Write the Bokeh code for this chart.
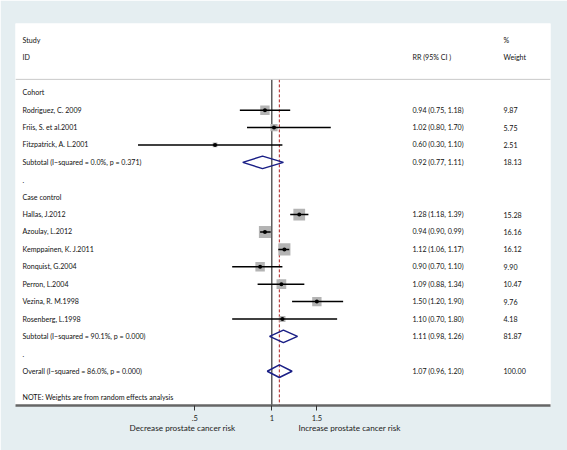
from bokeh.plotting import figure
from bokeh.models import (Range1d, LinearScale, FixedTicker, LinearAxis, Span,
                          ColumnDataSource)
from bokeh.core.properties import value
from bokeh.embed import file_html
from bokeh.resources import INLINE

# ---------------- data ----------------
studies = ["Rodriguez, C. 2009", "Friis, S. et al.2001", "Fitzpatrick, A. L.2001",
           "Hallas, J.2012", "Azoulay, L.2012", "Kemppainen, K. J.2011",
           "Ronquist, G.2004", "Perron, L.2004", "Vezina, R. M.1998", "Rosenberg, L.1998"]
study_rows = [1, 2, 3, 7, 8, 9, 10, 11, 12, 13]
rr = [0.94, 1.02, 0.60, 1.28, 0.94, 1.12, 0.90, 1.09, 1.50, 1.10]
ci_lo = [0.75, 0.80, 0.30, 1.18, 0.90, 1.06, 0.70, 0.88, 1.20, 0.70]
ci_hi = [1.18, 1.70, 1.10, 1.39, 0.99, 1.17, 1.10, 1.34, 1.90, 1.80]
weights = [9.87, 5.75, 2.51, 15.28, 16.16, 16.12, 9.90, 10.47, 9.76, 4.18]

pooled_labels = ["Subtotal  (I\u2212squared = 0.0%, p = 0.371)",
                 "Subtotal  (I\u2212squared = 90.1%, p = 0.000)",
                 "Overall  (I\u2212squared = 86.0%, p = 0.000)"]
pooled_rows = [4, 14, 16]
pooled_rr = [0.92, 1.11, 1.07]
pooled_lo = [0.77, 0.98, 0.96]
pooled_hi = [1.11, 1.26, 1.20]
pooled_w = [18.13, 81.87, 100.00]

group_labels = ["Cohort", ".", "Case control", "."]
group_rows = [0, 5, 6, 15]

tick_values = [0.5, 1, 1.5]
tick_labels = [".5", "1", "1.5"]
note = "NOTE: Weights are from random effects analysis"
favours = ["Decrease prostate cancer risk", "Increase prostate cancer risk"]

# ---------------- layout constants ----------------
W, H = 567, 450
FRAME_W = 535
Y_TOP, Y_BOT = -3.98, 17.97
SEP = -0.77
BG = "#e5eef1"
NAVY = "#1a1f86"
FONT = "Lato"
FS = "7.1px"
X_LAB, X_RR, X_WT = 7, 397, 488

p = figure(width=W, height=H, x_axis_type="log", y_axis_location=None,
           x_range=Range1d(0.0996, 12.28), y_range=Range1d(Y_BOT, Y_TOP),
           output_backend="svg", toolbar_location=None,
           min_border_left=15, min_border_right=17, min_border_top=23,
           min_border_bottom=45)
p.extra_x_ranges = {"px": Range1d(0, FRAME_W)}
p.extra_x_scales = {"px": LinearScale()}
p.background_fill_color = "white"
p.border_fill_color = BG
p.outline_line_color = None
p.xgrid.visible = False
p.ygrid.visible = False

# header separator
p.add_layout(Span(location=SEP, dimension="width", line_color="#c9c9c9", line_width=1))

# null line and overall line
p.segment(x0=[1], y0=[SEP], x1=[1], y1=[Y_BOT], line_color="#333333", line_width=1.2)
p.segment(x0=[pooled_rr[2]], y0=[SEP], x1=[pooled_rr[2]], y1=[Y_BOT],
          line_color="#b22222", line_width=1, line_dash="3 2")

# study boxes, CI lines and points
src = ColumnDataSource(dict(y=study_rows, rr=rr, lo=ci_lo, hi=ci_hi,
                            size=[3.0 * w ** 0.5 for w in weights]))
p.scatter("rr", "y", size="size", marker="square", source=src,
          fill_color="#b4b4b4", line_color=None)
p.segment(x0="lo", y0="y", x1="hi", y1="y", source=src, line_color="black", line_width=1.5)
p.scatter("rr", "y", size=4, marker="circle", source=src, fill_color="black", line_color=None)

# diamonds
dh = 0.36
xs = [[lo, m, hi, m] for lo, m, hi in zip(pooled_lo, pooled_rr, pooled_hi)]
ys = [[r, r - dh, r, r + dh] for r in pooled_rows]
p.patches(xs, ys, fill_color="white", fill_alpha=0, line_color=NAVY, line_width=1.5)

# texts
left_txt = (["Study", "ID"] + group_labels + studies + pooled_labels + [note])
left_row = ([-3, -2] + group_rows + study_rows + pooled_rows + [17.5])
rr_txt = ["%.2f (%.2f, %.2f)" % t for t in zip(rr, ci_lo, ci_hi)] + \
         ["%.2f (%.2f, %.2f)" % t for t in zip(pooled_rr, pooled_lo, pooled_hi)] + ["RR (95% CI  )"]
rr_row = study_rows + pooled_rows + [-2]
wt_txt = ["%.2f" % w for w in weights] + ["%.2f" % w for w in pooled_w] + ["%", "Weight"]
wt_row = study_rows + pooled_rows + [-3, -2]

for txts, rows, xpos in [(left_txt, left_row, X_LAB), (rr_txt, rr_row, X_RR), (wt_txt, wt_row, X_WT)]:
    p.text(x=[xpos] * len(txts), y=rows, text=txts, x_range_name="px",
           text_font=value(FONT), text_font_size=FS, text_color="#111111",
           text_baseline="middle", text_align="left")

# main axis
ax = p.xaxis[0]
ax.ticker = FixedTicker(ticks=tick_values)
ax.major_label_overrides = {v: l for v, l in zip(tick_values, tick_labels)}
ax.minor_tick_line_color = None
ax.axis_line_color = "#666666"
ax.axis_line_width = 2.5
ax.major_tick_line_color = "#333333"
ax.major_tick_out = 5
ax.major_tick_in = 0
ax.major_label_standoff = 4
ax.major_label_text_font = FONT
ax.major_label_text_font_size = "7.5px"
ax.major_label_text_color = "#222222"

# favours labels as second axis
fav = LinearAxis(x_range_name="px", ticker=FixedTicker(ticks=[167, 334]),
                 major_label_overrides={167: favours[0], 334: favours[1]})
fav.axis_line_color = None
fav.major_tick_line_color = None
fav.minor_tick_line_color = None
fav.major_tick_out = 0
fav.major_tick_in = 0
fav.major_label_standoff = -1
fav.major_label_text_font = FONT
fav.major_label_text_font_size = "8.2px"
fav.major_label_text_color = "#222222"
p.add_layout(fav, "below")

open("out.html", "w").write(file_html(p, INLINE))
